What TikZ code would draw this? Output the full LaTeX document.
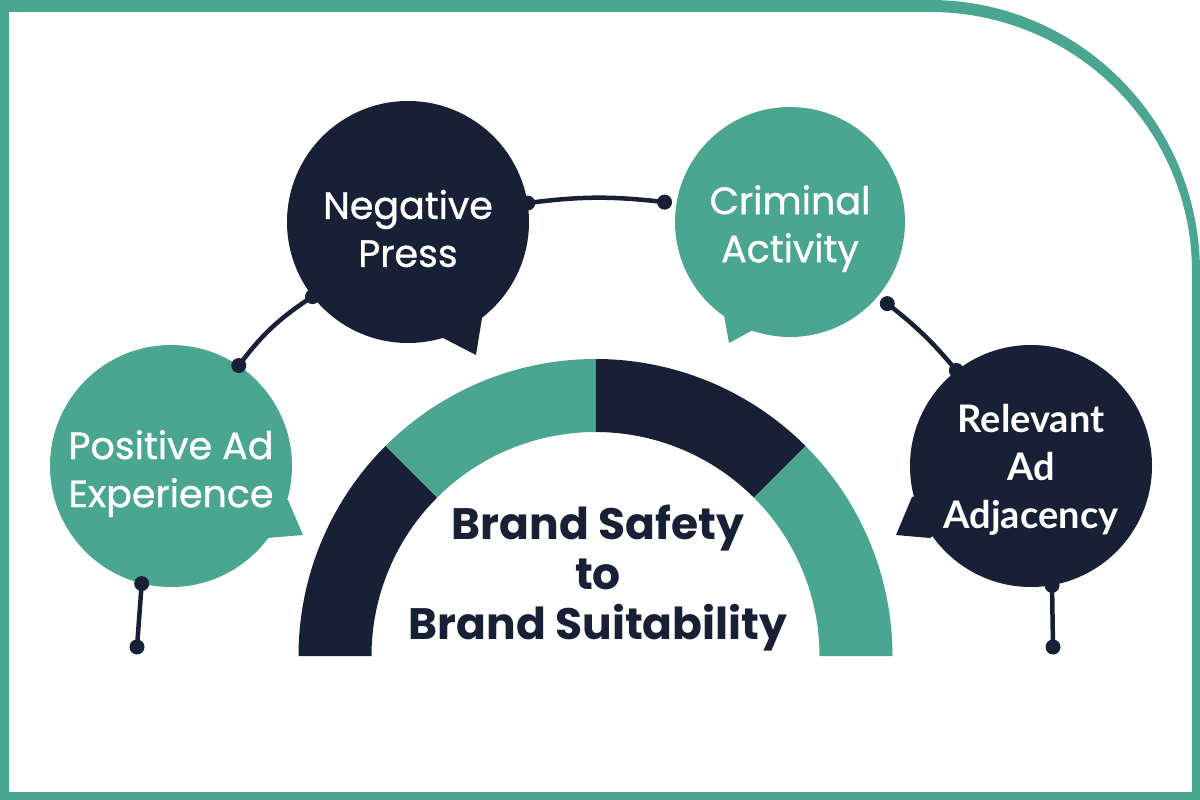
\documentclass[tikz,border=0pt]{standalone}
\usepackage{fontspec}
\setmainfont{Poppins}
\newfontfamily\bubblefont{Poppins}[FakeBold=0.9]
\newfontfamily\gillfont{Lato}
\usetikzlibrary{backgrounds}
\definecolor{brandteal}{RGB}{74,166,145}
\definecolor{brandnavy}{RGB}{23,32,52}
\newcommand{\topstrut}[1]{\rule{0pt}{#1pt}}
\begin{document}
\begin{tikzpicture}[x=1pt,y=-1pt,
  bubble/.style={circle, inner sep=0pt, minimum size=242pt, text=white, align=center,
    font=\bubblefont\fontsize{38}{48}\selectfont},
  conn/.style={draw=brandnavy, line width=4.5pt},
  dotc/.style={fill=brandnavy}
]
\useasboundingbox (0,0) rectangle (1200,800);
\begin{pgfonlayer}{background}
  \fill[white] (0,0) rectangle (1200,800);
  \fill[brandteal, even odd rule]
    (0,800) -- (0,0) -- (930,0) arc[start angle=-90, end angle=0, x radius=270, y radius=272]
      -- (1200,800) -- cycle
    (9,792) -- (9,12) -- (930,12) arc[start angle=-90, end angle=0, x radius=262, y radius=260]
      -- (1192,792) -- cycle;
\end{pgfonlayer}

% gauge
\coordinate (C) at (595.5,656);
\newcommand{\gseg}[3]{\fill[#3] (C) ++(#1:297) arc[start angle=#1, end angle=#2, radius=297]
   -- ++(#2:-73) arc[start angle=#2, end angle=#1, radius=224] -- cycle;}
\gseg{-180}{-135}{brandnavy}
\gseg{-135}{-90}{brandteal}
\gseg{-90}{-45}{brandnavy}
\gseg{-45}{0}{brandteal}

\node[text=brandnavy, align=center, font=\bfseries\fontsize{44}{50}\selectfont] (title)
  at (598,578) {Brand Safety\\to\\Brand Suitability};

% bubbles
\node[bubble, fill=brandnavy] (np) at (408,222) {\topstrut{42}Negative\\Press};
\node[bubble, fill=brandteal, minimum size=230pt, outer sep=12pt] (ca) at (790,222) {\topstrut{42}Criminal\\Activity};
\node[bubble, fill=brandteal] (pa) at (171,466) {\topstrut{44}Positive Ad\\Experience};
\node[bubble, fill=brandnavy, font=\gillfont\bfseries\fontsize{38}{48}\selectfont] (ra) at (1031,466) {\topstrut{36}Relevant\\Ad\\Adjacency};

\begin{pgfonlayer}{background}
  \fill[brandnavy] (np.center) -- (443,338) -- (476,355) -- (482,318) -- cycle;
  \fill[brandteal] (ca.center) -- (724,315) -- (729,343) -- (753,330) -- cycle;
  \fill[brandteal] (pa.center) -- (288,500) -- (303,535) -- (267,538) -- cycle;
  \fill[brandnavy] (ra.center) -- (912,497) -- (896,535) -- (930,538) -- cycle;
\end{pgfonlayer}

% connectors
\coordinate (pe) at (137,647);
\coordinate (re) at (1053,647);
\draw[conn] (pa.56) to[bend left=10] (np.-142);
\draw[conn] (np.9) to[bend left=7] (ca.171);
\draw[conn] (ca.-40) to[bend left=6] (ra.128);
\draw[conn] (pa.-104) -- (pe);
\draw[conn] (ra.-80) -- (re);

\foreach \p in {pa.56, np.-142, np.9, ca.171, ca.-40, ra.128, pa.-104, pe, ra.-80, re}
  \fill[dotc] (\p) circle[radius=7.5];
\end{tikzpicture}
\end{document}
